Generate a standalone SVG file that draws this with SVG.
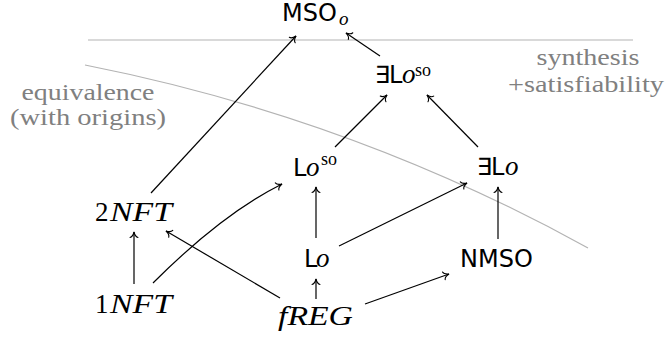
<svg xmlns="http://www.w3.org/2000/svg" width="668" height="341" viewBox="0 0 668 341">
<defs>
<marker id="ah" markerUnits="userSpaceOnUse" orient="auto" markerWidth="12" markerHeight="12" viewBox="-7 -6 9 12" refX="0" refY="0" overflow="visible">
<path d="M -5.5,-4 C -5,-1.6 -2,-0.5 0,0 C -2,0.5 -5,1.6 -5.5,4" fill="none" stroke="#000" stroke-width="1.1" stroke-linecap="round"/>
</marker>
<style>
.sf{font-size:24px;fill:#000}
.mi{font-style:italic;font-size:27px;fill:#000}
.rm{font-size:27px;fill:#000}
.sup{font-size:18px;fill:#000}
.sub{font-style:italic;font-size:19px;fill:#000}
.gl{font-size:24px;fill:#808080;text-anchor:middle}
.bd{fill:none;stroke:#b3b3b3;stroke-width:1.2}
.ed{fill:none;stroke:#000;stroke-width:1.2;marker-end:url(#ah)}
</style>
</defs>
<rect width="668" height="341" fill="#fff"/>
<g id="borders">
<line class="bd" x1="88" y1="40" x2="633" y2="40"/>
<path class="bd" d="M 85,65 Q 353,118 588,248"/>
</g>
<g id="region-labels" font-family="Liberation Serif, serif">
<text class="gl" x="88" y="100" textLength="133" lengthAdjust="spacingAndGlyphs">equivalence</text>
<text class="gl" x="88" y="125" textLength="156" lengthAdjust="spacingAndGlyphs">(with origins)</text>
<text class="gl" x="588" y="65" textLength="103" lengthAdjust="spacingAndGlyphs">synthesis</text>
<text class="gl" x="586" y="92" textLength="156" lengthAdjust="spacingAndGlyphs">+satisfiability</text>
</g>
<g id="edges">
<line class="ed" x1="151" y1="193" x2="296" y2="36"/>
<line class="ed" x1="380" y1="56" x2="346" y2="33"/>
<line class="ed" x1="335" y1="147" x2="387" y2="95"/>
<line class="ed" x1="478" y1="147" x2="427" y2="95"/>
<line class="ed" x1="316" y1="238" x2="316" y2="187"/>
<line class="ed" x1="339" y1="246" x2="467" y2="183"/>
<line class="ed" x1="498" y1="239" x2="498" y2="187"/>
<line class="ed" x1="365" y1="304" x2="449" y2="274"/>
<line class="ed" x1="316" y1="299" x2="316" y2="279"/>
<line class="ed" x1="280" y1="298" x2="166" y2="231"/>
<line class="ed" x1="134" y1="284" x2="134" y2="232"/>
<path class="ed" d="M 153,283 Q 222,214 282,184"/>
</g>
<g id="n-MSOo">
<text class="sf" font-family="DejaVu Sans, sans-serif" x="282" y="21">MSO</text>
<text class="sub" font-family="Liberation Serif, serif" x="339" y="25">o</text>
</g>
<g id="n-ELoso">
<text class="sf" font-family="DejaVu Sans, sans-serif" x="375" y="83">∃</text>
<text class="sf" font-family="DejaVu Sans, sans-serif" x="389" y="83">L</text>
<text class="mi" font-family="Liberation Serif, serif" x="402" y="83">o</text>
<text class="sup" font-family="Liberation Serif, serif" x="415" y="76">so</text>
</g>
<g id="n-Loso">
<text class="sf" font-family="DejaVu Sans, sans-serif" x="293" y="176">L</text>
<text class="mi" font-family="Liberation Serif, serif" x="306" y="176">o</text>
<text class="sup" font-family="Liberation Serif, serif" x="321" y="165">so</text>
</g>
<g id="n-ELo">
<text class="sf" font-family="DejaVu Sans, sans-serif" x="477" y="175">∃</text>
<text class="sf" font-family="DejaVu Sans, sans-serif" x="491" y="175">L</text>
<text class="mi" font-family="Liberation Serif, serif" x="505" y="175">o</text>
</g>
<g id="n-2NFT" font-family="Liberation Serif, serif">
<text class="rm" x="95" y="221">2</text>
<text class="mi" x="110" y="221" textLength="62" lengthAdjust="spacingAndGlyphs">NFT</text>
</g>
<g id="n-1NFT" font-family="Liberation Serif, serif">
<text class="rm" x="95" y="313">1</text>
<text class="mi" x="110" y="313" textLength="62" lengthAdjust="spacingAndGlyphs">NFT</text>
</g>
<g id="n-Lo">
<text class="sf" font-family="DejaVu Sans, sans-serif" x="304" y="267">L</text>
<text class="mi" font-family="Liberation Serif, serif" x="316" y="267">o</text>
</g>
<g id="n-NMSO">
<text class="sf" font-family="DejaVu Sans, sans-serif" x="460" y="267">NMSO</text>
</g>
<g id="n-fREG" font-family="Liberation Serif, serif">
<text class="mi" x="278" y="325" textLength="75" lengthAdjust="spacingAndGlyphs">fREG</text>
</g>
</svg>
